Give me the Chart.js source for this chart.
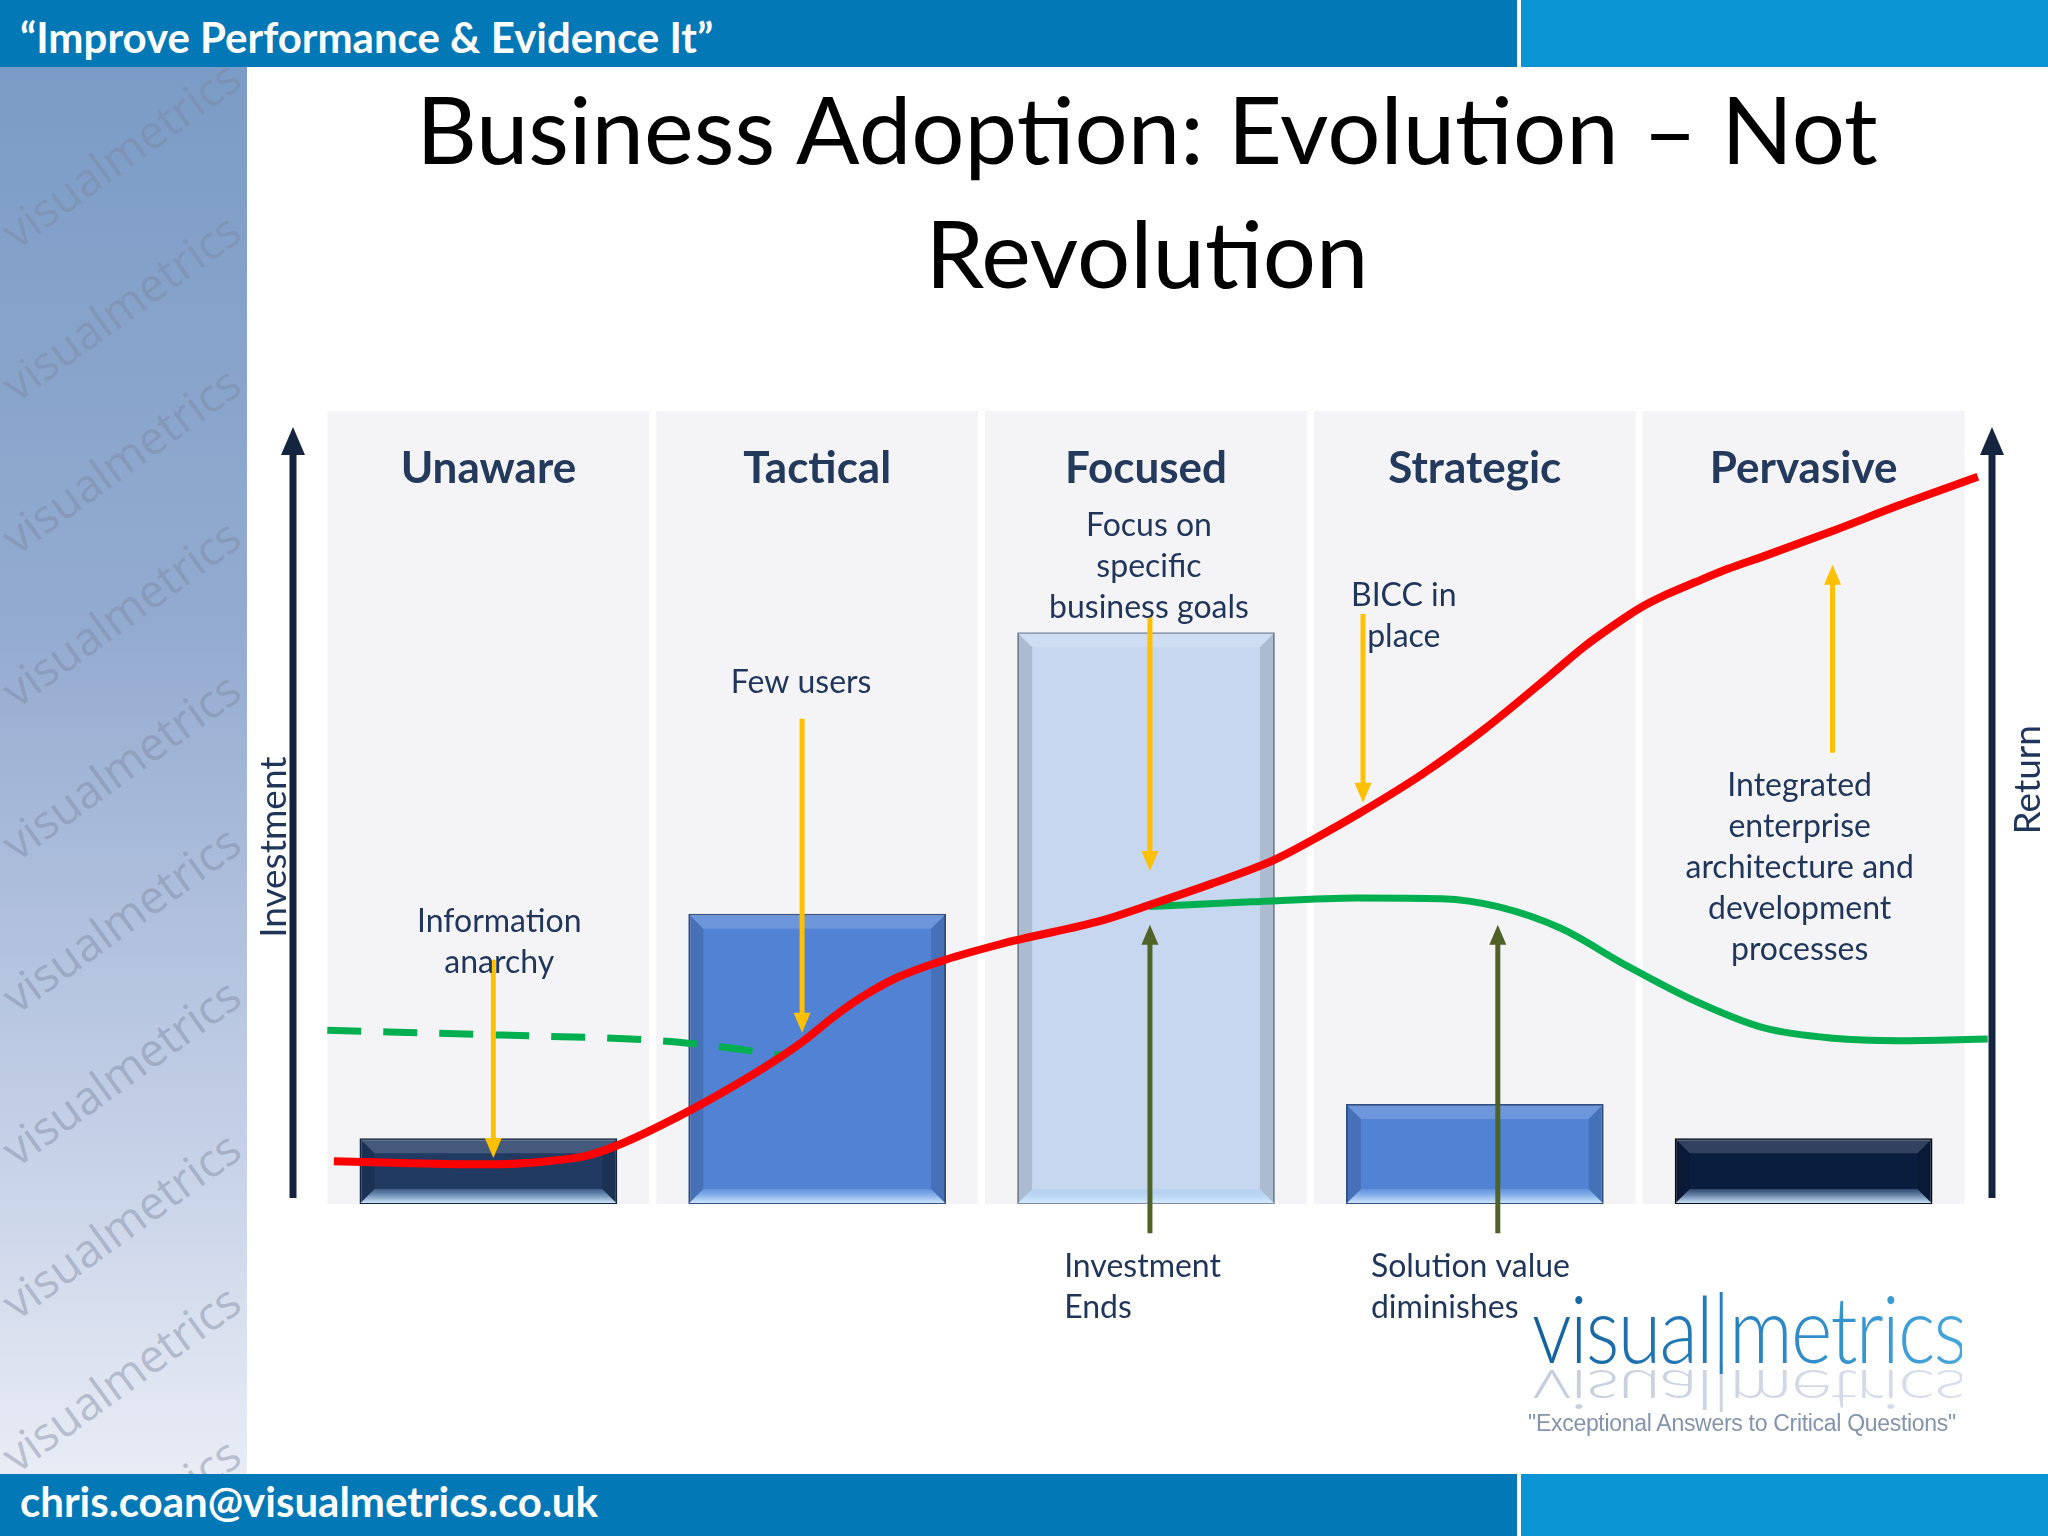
<!DOCTYPE html>
<html>
<head>
<meta charset="utf-8">
<script src="https://cdn.jsdelivr.net/npm/chart.js@4.4.0/dist/chart.umd.min.js"></script>
<style>
  html, body { margin: 0; padding: 0; }
  body { width: 2048px; height: 1536px; position: relative; overflow: hidden; background: #fff; font-family: Lato, sans-serif; }
  .band { position: absolute; left: 0; width: 2048px;
    background: linear-gradient(to right, #0278b6 0, #0278b6 1517px, #fff 1517px, #fff 1521px, #0a94d3 1521px); }
  .band span { position: absolute; left: 20px; color: #fff; font-weight: bold; font-size: 42px; white-space: nowrap; }
  #head { top: 0; height: 67px; }
  #head span { top: 12px; }
  #foot { top: 1474px; height: 62px; }
  #foot span { top: 2px; font-size: 42px; }
  #side { position: absolute; left: 0; top: 67px; width: 247px; height: 1407px; overflow: hidden;
    background: linear-gradient(#7b9cc6, #94abd0 40%, #c3cfe6 75%, #e9ecf5); }
  .wm { position: absolute; left: -30px; width: 300px; text-align: center; font-family: "Open Sans", sans-serif;
    font-size: 46px; color: rgba(125, 135, 160, 0.45); transform: rotate(-36deg); white-space: nowrap; }
  #title { position: absolute; left: 247px; width: 1800px; top: 66px; text-align: center; font-size: 94px; line-height: 124px; color: #000; }
  #chartBox { position: absolute; left: 247px; top: 300px; }
  #logo { position: absolute; left: 1497px; top: 1282px; width: 500px; text-align: center; white-space: nowrap; }
  #logo .word { font-size: 92px; font-weight: 300; line-height: 92px; letter-spacing: -2px; transform: scaleX(0.86); transform-origin: center;
    background: linear-gradient(to right, #14609b, #2a86c4 55%, #45a7dc); -webkit-background-clip: text; color: transparent; white-space: nowrap; }
  #logo .mirror { position: absolute; left: 0; top: 4px; width: 500px; transform: scale(0.86, -0.6); transform-origin: 50% 90%; opacity: 0.35;
    background: linear-gradient(to right, #5a6f9a, #8ea4cc); -webkit-background-clip: text; }
  #tag { position: absolute; left: 1507px; top: 1410px; width: 470px; text-align: center; font-family: "Liberation Sans", sans-serif;
    font-size: 23px; color: #8394ad; white-space: nowrap; letter-spacing: -0.3px; }
</style>
</head>
<body>
<div id="head" class="band"><span>“Improve Performance &amp; Evidence It”</span></div>
<div id="side"></div>
<div id="title">Business Adoption: Evolution – Not<br>Revolution</div>
<div id="chartBox"><canvas id="chart" width="1801" height="1173"></canvas></div>
<div id="logo"><div class="word mirror">visual|metrics</div><div class="word">visual|metrics</div></div>
<div id="tag">"Exceptional Answers to Critical Questions"</div>
<div id="foot" class="band"><span>chris.coan@visualmetrics.co.uk</span></div>

<script>
// watermark down the left strip
const side = document.getElementById("side");
for (let i = 0; i < 10; i++) {
  const d = document.createElement("div");
  d.className = "wm";
  d.textContent = "visualmetrics";
  d.style.top = (55 + i * 153) + "px";
  side.appendChild(d);
}

// stages and investment per stage (0 = floor, 100 = top of panel)
const stages = ["Unaware", "Tactical", "Focused", "Strategic", "Pervasive"];
const investment = [8.3, 36.6, 72.1, 12.6, 8.3];
const panelTop = [100, 100, 100, 100, 100];

// return curve (red), x in stage units
const returnX = [-0.47, -0.29, 0.0, 0.18, 0.3, 0.41, 0.59, 0.73, 0.88, 0.96, 1.05, 1.14, 1.24, 1.39, 1.56, 1.62,
  1.87, 2.01, 2.2, 2.39, 2.51, 2.65, 2.84, 3.03, 3.23, 3.33, 3.42, 3.5, 3.58, 3.67, 3.77, 3.88, 4.09, 4.29, 4.53];
const returnY = [5.4, 5.2, 5.0, 5.4, 6.1, 7.7, 11.3, 14.5, 18.3, 20.6, 23.6, 26.2, 28.5, 30.8, 32.8, 33.4,
  35.8, 37.7, 40.4, 43.4, 46.0, 49.3, 54.2, 59.9, 66.7, 70.2, 72.9, 75.1, 76.8, 78.4, 80.1, 81.7, 84.9, 88.1, 91.7];

// solution value (green), after investment ends
const valueX = [2.01, 2.32, 2.64, 2.9, 3.07, 3.26, 3.46, 3.67, 3.88, 4.09, 4.29, 4.56];
const valueY = [37.5, 38.1, 38.6, 38.5, 37.5, 34.8, 30.1, 25.6, 22.2, 20.9, 20.6, 20.8];

// early value (green dashed)
const earlyX = [-0.49, 0.04, 0.52, 0.71, 0.9];
const earlyY = [21.9, 21.3, 20.6, 19.8, 18.7];

const barFill = ["#213a62", "#5182d4", "#c6d7ef", "#5182d4", "#0b1d3f"];
const barEdge = ["#142540", "#2f4f86", "#7f8ea6", "#2f4f86", "#050d1e"];

// call-out arrows: x in stage units, from -> to in value units
const pointers = [
  { x: 0.015, from: 30.8, to: 5.8, color: "#ffc000" },
  { x: 0.954, from: 61.2, to: 21.6, color: "#ffc000" },
  { x: 2.012, from: 74.0, to: 42.0, color: "#ffc000" },
  { x: 2.66, from: 74.4, to: 50.6, color: "#ffc000" },
  { x: 4.088, from: 56.9, to: 80.6, color: "#ffc000" },
  { x: 2.012, from: -3.7, to: 35.2, color: "#4f6228" },
  { x: 3.07, from: -3.7, to: 35.2, color: "#4f6228" }
];

// call-out texts
const notes = [
  { lines: ["Information", "anarchy"], x: 0.033, y: 35.6, align: "center" },
  { lines: ["Few users"], x: 0.951, y: 65.8, align: "center" },
  { lines: ["Focus on", "specific", "business goals"], x: 2.009, y: 85.5, align: "center" },
  { lines: ["BICC in", "place"], x: 2.784, y: 76.7, align: "center" },
  { lines: ["Integrated", "enterprise", "architecture and", "development", "processes"], x: 3.988, y: 52.8, align: "center" },
  { lines: ["Investment", "Ends"], x: 1.751, y: -7.9, align: "left" },
  { lines: ["Solution value", "diminishes"], x: 2.684, y: -7.9, align: "left" }
];

const textColor = "#1f355a";

function poly(ctx, pts) {
  ctx.beginPath();
  ctx.moveTo(pts[0][0], pts[0][1]);
  for (let i = 1; i < pts.length; i++) ctx.lineTo(pts[i][0], pts[i][1]);
  ctx.closePath();
  ctx.fill();
}

function arrow(ctx, x, y1, y2, color, lw, hw, hl) {
  const dir = y2 > y1 ? 1 : -1;
  ctx.strokeStyle = color;
  ctx.fillStyle = color;
  ctx.lineWidth = lw;
  ctx.beginPath();
  ctx.moveTo(x, y1);
  ctx.lineTo(x, y2 - dir * hl * 0.8);
  ctx.stroke();
  poly(ctx, [[x, y2], [x - hw / 2, y2 - dir * hl], [x + hw / 2, y2 - dir * hl]]);
}

const decor = {
  id: "decor",
  afterDatasetDraw(chart, args) {
    if (args.index !== 1) return;
    const ctx = chart.ctx;
    const s = 14;
    ctx.save();
    args.meta.data.forEach((bar) => {
      const l = bar.x - bar.width / 2 + 1, r = bar.x + bar.width / 2 - 1;
      const t = bar.y + 1, b = bar.base - 1;
      ctx.fillStyle = "rgba(255,255,255,0.16)";
      poly(ctx, [[l, t], [r, t], [r - s, t + s], [l + s, t + s]]);
      const g = ctx.createLinearGradient(0, b - s, 0, b);
      g.addColorStop(0, "rgba(150,195,245,0.25)");
      g.addColorStop(1, "rgba(215,238,255,0.95)");
      ctx.fillStyle = g;
      poly(ctx, [[l, b], [r, b], [r - s, b - s], [l + s, b - s]]);
      ctx.fillStyle = "rgba(0,0,0,0.13)";
      poly(ctx, [[l, t], [l + s, t + s], [l + s, b - s], [l, b]]);
      poly(ctx, [[r, t], [r - s, t + s], [r - s, b - s], [r, b]]);
    });
    ctx.restore();
  },
  afterDatasetsDraw(chart) {
    const ctx = chart.ctx;
    const xs = chart.scales.xl, ys = chart.scales.y, area = chart.chartArea;
    ctx.save();

    // axis arrows
    const axisColor = "#15243f";
    arrow(ctx, area.left - 31, area.bottom - 6, area.top + 16, axisColor, 7, 24, 28);
    arrow(ctx, area.right + 24, area.bottom - 6, area.top + 16, axisColor, 7, 24, 28);

    // call-out arrows
    pointers.forEach((p) => {
      arrow(ctx, xs.getPixelForValue(p.x), ys.getPixelForValue(p.from), ys.getPixelForValue(p.to), p.color, 5, 17, 20);
    });

    // stage headings
    ctx.fillStyle = "#243a5c";
    ctx.font = "bold 44px Lato, sans-serif";
    ctx.textAlign = "center";
    ctx.textBaseline = "middle";
    stages.forEach((name, i) => {
      ctx.fillText(name, xs.getPixelForValue(i), ys.getPixelForValue(92.7));
    });

    // notes
    ctx.fillStyle = textColor;
    ctx.font = "32px Lato, sans-serif";
    notes.forEach((n) => {
      ctx.textAlign = n.align;
      const x = xs.getPixelForValue(n.x);
      const y0 = ys.getPixelForValue(n.y);
      n.lines.forEach((line, k) => ctx.fillText(line, x, y0 + k * 41));
    });

    // axis titles
    ctx.font = "37px Lato, sans-serif";
    ctx.textAlign = "center";
    ctx.save();
    ctx.translate(area.left - 50, ys.getPixelForValue(45));
    ctx.rotate(-Math.PI / 2);
    ctx.fillText("Investment", 0, 0);
    ctx.restore();
    ctx.save();
    ctx.translate(area.right + 60, ys.getPixelForValue(53.5));
    ctx.rotate(-Math.PI / 2);
    ctx.fillText("Return", 0, 0);
    ctx.restore();

    ctx.restore();
  }
};

const toPoints = (xs, ys) => xs.map((x, i) => ({ x: x, y: ys[i] }));

new Chart(document.getElementById("chart"), {
  type: "bar",
  data: {
    labels: stages,
    datasets: [
      {
        data: panelTop,
        backgroundColor: "#f4f4f6",
        barPercentage: 0.979,
        categoryPercentage: 1,
        grouped: false,
        order: 10
      },
      {
        data: investment,
        backgroundColor: barFill,
        borderColor: barEdge,
        borderWidth: 2,
        borderSkipped: false,
        barPercentage: 0.784,
        categoryPercentage: 1,
        grouped: false,
        order: 5
      },
      {
        type: "line",
        xAxisID: "xl",
        data: toPoints(earlyX, earlyY),
        borderColor: "#00b050",
        borderWidth: 7,
        borderDash: [34, 22],
        pointRadius: 0,
        cubicInterpolationMode: "monotone",
        clip: false,
        order: 3
      },
      {
        type: "line",
        xAxisID: "xl",
        data: toPoints(valueX, valueY),
        borderColor: "#00b050",
        borderWidth: 7,
        pointRadius: 0,
        cubicInterpolationMode: "monotone",
        clip: false,
        order: 2
      },
      {
        type: "line",
        xAxisID: "xl",
        data: toPoints(returnX, returnY),
        borderColor: "#ff0000",
        borderWidth: 8,
        pointRadius: 0,
        cubicInterpolationMode: "monotone",
        clip: false,
        order: 1
      }
    ]
  },
  options: {
    responsive: false,
    animation: false,
    layout: { padding: { left: 77, right: 80, top: 111, bottom: 269 } },
    plugins: { legend: { display: false }, tooltip: { enabled: false } },
    scales: {
      x: { display: false, offset: true },
      xl: { type: "linear", display: false, offset: false, min: -0.5, max: 4.5 },
      y: { display: false, min: 0, max: 100 }
    }
  },
  plugins: [decor]
});
</script>
</body>
</html>
